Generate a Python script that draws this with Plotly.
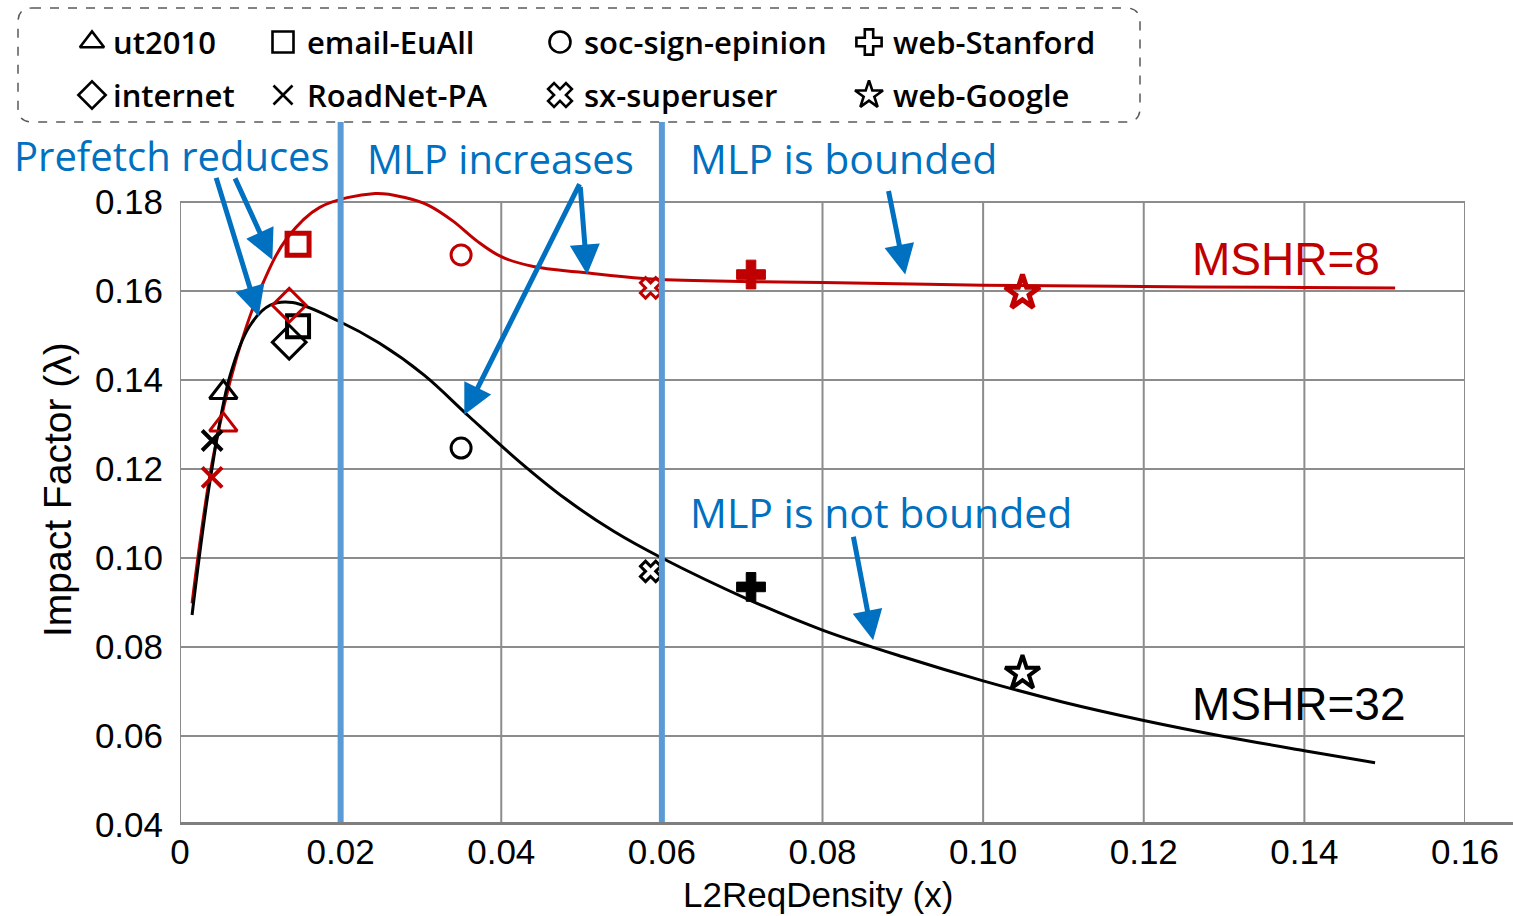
import plotly.graph_objects as go

W, H = 1513, 916

# ---- data -------------------------------------------------------------
datasets = ["ut2010", "email-EuAll", "soc-sign-epinion", "web-Stanford",
            "internet", "RoadNet-PA", "sx-superuser", "web-Google"]
l2_density = [0.0054, 0.0147, 0.0350, 0.0711, 0.0136, 0.0040, 0.0586, 0.1049]
impact_mshr32 = [0.1372, 0.1521, 0.1247, 0.0935, 0.1485, 0.1264, 0.0970, 0.0741]
impact_mshr8 = [0.1299, 0.1705, 0.1681, 0.1637, 0.1568, 0.1181, 0.1607, 0.1596]

# fitted model curves
fit32_x = [0.0015, 0.0037, 0.0062, 0.0087, 0.0112, 0.0140, 0.0198, 0.0248, 0.0304,
           0.0360, 0.0421, 0.0480, 0.0540, 0.0600, 0.0710, 0.0800, 0.0900, 0.1000,
           0.1100, 0.1200, 0.1300, 0.1400, 0.1488]
fit32_y = [0.0872, 0.1169, 0.1408, 0.1522, 0.1568, 0.1574, 0.1532, 0.1483, 0.1411,
           0.1318, 0.1219, 0.1133, 0.1060, 0.1000, 0.0905, 0.0838, 0.0778, 0.0724,
           0.0676, 0.0635, 0.0599, 0.0567, 0.0540]
fit8_x = [0.0015, 0.0041, 0.0071, 0.0102, 0.0133, 0.0174, 0.0243, 0.0280, 0.0310,
          0.0340, 0.0370, 0.0400, 0.0440, 0.0500, 0.0588, 0.0710, 0.0800, 0.1000,
          0.1200, 0.1400, 0.1513]
fit8_y = [0.0898, 0.1224, 0.1453, 0.1612, 0.1718, 0.1788, 0.1819, 0.1810, 0.1792,
          0.1757, 0.1712, 0.1677, 0.1655, 0.1642, 0.1627, 0.1621, 0.1619, 0.1613,
          0.1610, 0.1608, 0.1607]

x_ticks = [0, 0.02, 0.04, 0.06, 0.08, 0.10, 0.12, 0.14, 0.16]
x_tick_text = ["0", "0.02", "0.04", "0.06", "0.08", "0.10", "0.12", "0.14", "0.16"]
y_ticks = [0.04, 0.06, 0.08, 0.10, 0.12, 0.14, 0.16, 0.18]
y_tick_text = ["0.04", "0.06", "0.08", "0.10", "0.12", "0.14", "0.16", "0.18"]
phase_bounds = [0.02, 0.06]

# ---- styles -----------------------------------------------------------
BLACK = "#000000"
RED = "#C00000"
BLUE_TXT = "#0070C0"
BLUE_LINE = "#5B9BD5"
GRID = "#8C8C8C"

sym32 = ["triangle-up-open", "square-open", "circle-open", "cross",
         "diamond-open", "x-thin-open", "x-open", "star-open"]
sym8 = ["triangle-up-open", "square-open", "circle-open", "cross",
        "diamond-open", "x-thin-open", "x-open", "star-open"]
sym_legend = ["triangle-up-open", "square-open", "circle-open", "cross-open",
              "diamond-open", "x-thin-open", "x-open", "star-open"]
sym_size = [24, 22, 20, 24, 26, 20, 18, 26]
lw32 = [3, 4, 3, 1, 3, 4, 3, 4]
lw8 = [3, 5, 3, 1, 3, 4, 3, 5]

# plot area in pixels
PX_L, PX_R = 180, 1465
PX_B = 825
Y_LO, Y_HI = 0.04, 0.1825
PX_PER_Y = 623 / 0.14
PX_T = PX_B - (Y_HI - Y_LO) * PX_PER_Y

fig = go.Figure()

# fitted curves
fig.add_trace(go.Scatter(x=fit8_x, y=fit8_y, mode="lines",
                         line=dict(color=RED, width=3, shape="spline", smoothing=1.0),
                         showlegend=False, hoverinfo="skip"))
fig.add_trace(go.Scatter(x=fit32_x, y=fit32_y, mode="lines",
                         line=dict(color=BLACK, width=3, shape="spline", smoothing=1.0),
                         showlegend=False, hoverinfo="skip"))

# measured points
for i, name in enumerate(datasets):
    fig.add_trace(go.Scatter(
        x=[l2_density[i]], y=[impact_mshr32[i]], mode="markers", name=name, showlegend=False,
        marker=dict(symbol=sym32[i], size=sym_size[i], color=BLACK, line=dict(color=BLACK, width=lw32[i])),
        cliponaxis=False))
    fig.add_trace(go.Scatter(
        x=[l2_density[i]], y=[impact_mshr8[i]], mode="markers", name=name, showlegend=False,
        marker=dict(symbol=sym8[i], size=sym_size[i], color=RED, line=dict(color=RED, width=lw8[i])),
        cliponaxis=False))

# legend keys drawn on a full-page pixel overlay
leg_cols_sym = [92, 283, 560, 869]
leg_cols_txt = [111, 305, 582, 891]
leg_rows = [42, 95]
annotations = []
for i, name in enumerate(datasets):
    r, c = divmod(i, 4)
    fig.add_trace(go.Scatter(
        x=[leg_cols_sym[c]], y=[leg_rows[r]], xaxis="x2", yaxis="y2", mode="markers",
        showlegend=False, hoverinfo="skip",
        marker=dict(symbol=sym_legend[i], size=21 if i != 5 else 19, color=BLACK,
                    line=dict(color=BLACK, width=2.6))))
    annotations.append(dict(x=leg_cols_txt[c], y=leg_rows[r], xref="x2", yref="y2", text=name,
                            showarrow=False, xanchor="left", yanchor="middle",
                            font=dict(family="Open Sans", size=31, color=BLACK, weight=600)))

# callout texts
callouts = [("Prefetch reduces", 12, 155, 40), ("MLP increases", 365, 158, 40),
            ("MLP is bounded", 688, 158, 41), ("MLP is not bounded", 688, 512, 41)]
for txt, x0, yc, fs in callouts:
    annotations.append(dict(x=x0, y=yc, xref="x2", yref="y2", text=txt, showarrow=False,
                            xanchor="left", yanchor="middle",
                            font=dict(family="Open Sans", size=fs, color=BLUE_TXT, weight=500)))

# callout arrows: tip in data units, tail offset in pixels
arrows = [(0.0098, 0.1543, -43, -140), (0.0115, 0.1670, -38, -83),
          (0.0354, 0.1322, 116, -232), (0.0507, 0.1637, -7, -89),
          (0.0903, 0.1637, -17, -85), (0.0863, 0.0815, -20, -105)]
for x, y, ax, ay in arrows:
    annotations.append(dict(x=x, y=y, xref="x", yref="y", ax=ax, ay=ay, axref="pixel", ayref="pixel",
                            text="", showarrow=True, arrowhead=2, arrowsize=1.2, arrowwidth=5,
                            arrowcolor=BLUE_TXT, standoff=0))

# series labels
annotations.append(dict(x=0.1258, y=0.1672, xref="x", yref="y", text="MSHR=8", showarrow=False,
                        xanchor="left", yanchor="middle",
                        font=dict(family="Liberation Sans", size=46, color=RED)))
annotations.append(dict(x=0.1258, y=0.0673, xref="x", yref="y", text="MSHR=32", showarrow=False,
                        xanchor="left", yanchor="middle",
                        font=dict(family="Liberation Sans", size=46, color=BLACK)))

# axis titles
annotations.append(dict(x=818, y=894, xref="x2", yref="y2", text="L2ReqDensity (x)", showarrow=False,
                        xanchor="center", yanchor="middle",
                        font=dict(family="Liberation Sans", size=35, color=BLACK)))
annotations.append(dict(x=57, y=490, xref="x2", yref="y2", text="Impact Factor (λ)", showarrow=False,
                        textangle=-90, xanchor="center", yanchor="middle",
                        font=dict(family="Liberation Sans", size=39, color=BLACK)))

shapes = []
# vertical grid lines stop at the top tick
for v in x_ticks[1:]:
    shapes.append(dict(type="line", xref="x", yref="y", x0=v, x1=v, y0=Y_LO, y1=0.18,
                       line=dict(color=GRID, width=2), layer="below"))
# left axis line
shapes.append(dict(type="line", xref="x", yref="y", x0=0, x1=0, y0=Y_LO, y1=0.18,
                   line=dict(color=GRID, width=2), layer="below"))
# heavy bottom axis
shapes.append(dict(type="line", xref="x2", yref="y", x0=PX_L, x1=W, y0=Y_LO, y1=Y_LO,
                   line=dict(color="#7F7F7F", width=6), layer="above"))
# phase boundaries
for v in phase_bounds:
    shapes.append(dict(type="line", xref="x", yref="y2", x0=v, x1=v, y0=PX_B - 3, y1=122,
                       line=dict(color=BLUE_LINE, width=6), layer="above"))
# dashed rounded legend frame
l, t, r_, b, rad = 18, 8, 1140, 122, 14
path = (f"M {l+rad} {t} L {r_-rad} {t} Q {r_} {t} {r_} {t+rad} L {r_} {b-rad} Q {r_} {b} {r_-rad} {b} "
        f"L {l+rad} {b} Q {l} {b} {l} {b-rad} L {l} {t+rad} Q {l} {t} {l+rad} {t} Z")
shapes.append(dict(type="path", xref="x2", yref="y2", path=path,
                   line=dict(color="#595959", width=1.5, dash="dash"), layer="above"))

tick_font = dict(family="Liberation Sans", size=35, color=BLACK)
fig.update_layout(
    width=W, height=H,
    margin=dict(l=0, r=0, t=0, b=0, pad=0, autoexpand=False),
    paper_bgcolor="white", plot_bgcolor="rgba(0,0,0,0)",
    showlegend=False,
    xaxis=dict(domain=[PX_L / W, PX_R / W], range=[0, 0.16], tickvals=x_ticks, ticktext=x_tick_text,
               showgrid=False, zeroline=False, showline=False, ticks="", tickfont=tick_font,
               ticklabelstandoff=3, anchor="y", fixedrange=True, automargin=False),
    yaxis=dict(domain=[1 - PX_B / H, 1 - PX_T / H], range=[Y_LO, Y_HI], tickvals=y_ticks,
               ticktext=y_tick_text, showgrid=True, gridcolor=GRID, gridwidth=2, zeroline=False,
               showline=False, ticks="", tickfont=tick_font, ticklabelstandoff=16, anchor="x",
               fixedrange=True, automargin=False),
    xaxis2=dict(domain=[0, 1], range=[0, W], visible=False, anchor="y2", fixedrange=True,
                automargin=False),
    yaxis2=dict(domain=[0, 1], range=[H, 0], visible=False, anchor="x2", fixedrange=True,
                automargin=False),
    annotations=annotations,
    shapes=shapes,
)

fig.write_html("out.html")
